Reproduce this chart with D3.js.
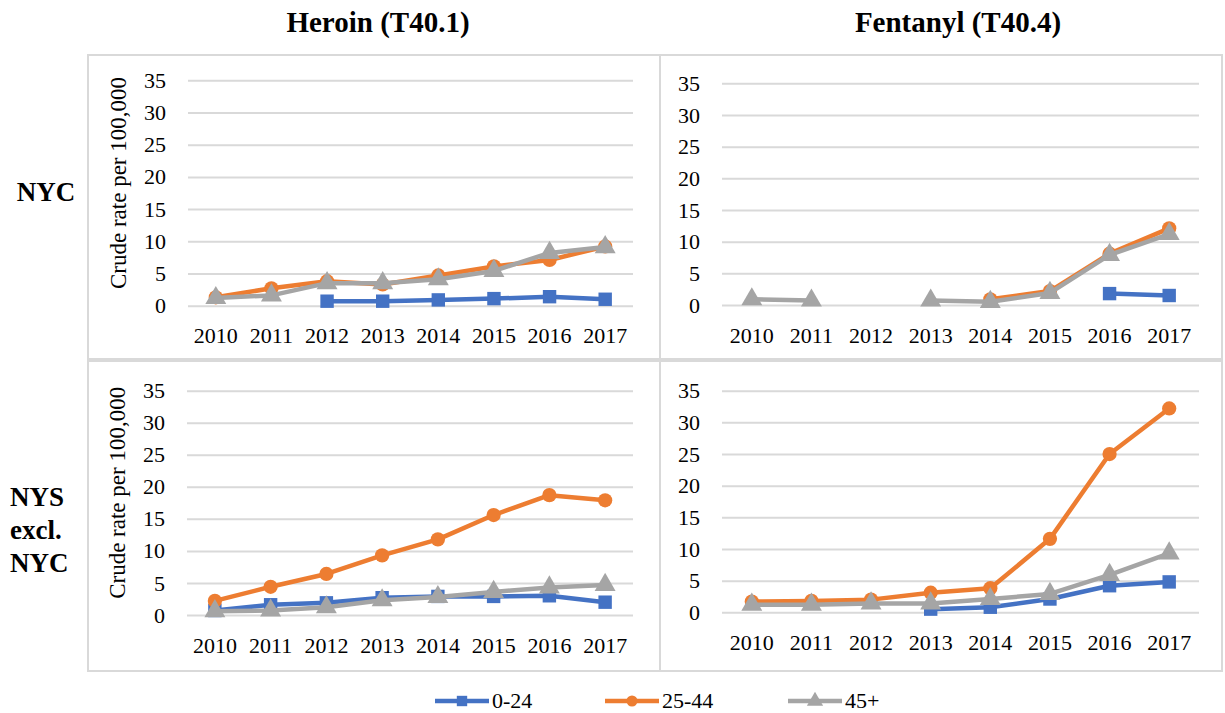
<!DOCTYPE html>
<html>
<head>
<meta charset="utf-8">
<script src="https://cdnjs.cloudflare.com/ajax/libs/d3/7.8.5/d3.min.js"></script>
<style>
  body { margin: 0; background: #fff; }
  svg text { font-family: "Liberation Serif", "Times New Roman", Times, "DejaVu Serif", serif; fill: #000; }
</style>
</head>
<body>
<svg width="1225" height="713"></svg>
<script>
var years = ["2010", "2011", "2012", "2013", "2014", "2015", "2016", "2017"];
var ageGroups = ["0-24", "25-44", "45+"];
var yTicks = [0, 5, 10, 15, 20, 25, 30, 35];
var columnTitles = ["Heroin (T40.1)", "Fentanyl (T40.4)"];

// crude rate per 100,000, null = not shown
var heroinNyc024 = [null, null, 0.7, 0.7, 0.9, 1.1, 1.4, 1.0];
var heroinNyc2544 = [1.3, 2.7, 3.8, 3.3, 4.7, 6.1, 7.1, 9.2];
var heroinNyc45 = [1.2, 1.6, 3.5, 3.5, 4.1, 5.4, 8.2, 9.1];

var fentanylNyc024 = [null, null, null, null, null, null, 1.8, 1.5];
var fentanylNyc2544 = [null, null, null, null, 0.9, 2.2, 8.1, 12.1];
var fentanylNyc45 = [0.9, 0.7, null, 0.7, 0.5, 1.9, 7.9, 11.2];

var heroinRest024 = [0.7, 1.6, 1.9, 2.7, 2.9, 2.9, 3.0, 2.0];
var heroinRest2544 = [2.2, 4.4, 6.4, 9.3, 11.8, 15.6, 18.7, 17.9];
var heroinRest45 = [0.6, 0.7, 1.2, 2.3, 2.8, 3.6, 4.3, 4.7];

var fentanylRest024 = [null, null, null, 0.5, 0.8, 2.1, 4.2, 4.8];
var fentanylRest2544 = [1.7, 1.8, 2.0, 3.1, 3.8, 11.6, 25.0, 32.2];
var fentanylRest45 = [1.2, 1.2, 1.4, 1.4, 2.1, 2.9, 5.9, 9.3];

var colors = ["#4472C4", "#ED7D31", "#A5A5A5"];
var symbols = [d3.symbolSquare, d3.symbolCircle, d3.symbolTriangle];
var symbolSizes = [180, 160, 190];
var serif = "'Liberation Serif', 'Times New Roman', Times, 'DejaVu Serif', serif";

var svg = d3.select("svg");

var panels = [
  { series: [heroinNyc024, heroinNyc2544, heroinNyc45], box: [88, 55, 660, 359],
    left: 188, right: 633, top: 80.3, bottom: 305.7, yTitle: true },
  { series: [fentanylNyc024, fentanylNyc2544, fentanylNyc45], box: [660, 55, 1222, 359],
    left: 722, right: 1199, top: 83.3, bottom: 305, yTitle: false },
  { series: [heroinRest024, heroinRest2544, heroinRest45], box: [88, 361, 660, 671],
    left: 187, right: 633, top: 390.7, bottom: 615, yTitle: true },
  { series: [fentanylRest024, fentanylRest2544, fentanylRest45], box: [660, 361, 1222, 671],
    left: 722, right: 1199, top: 390.7, bottom: 612.3, yTitle: false }
];

// table-like cell borders
panels.forEach(function(p) {
  svg.append("rect")
    .attr("x", p.box[0]).attr("y", p.box[1])
    .attr("width", p.box[2] - p.box[0]).attr("height", p.box[3] - p.box[1])
    .attr("fill", "none")
    .attr("stroke", "#d9d9d9")
    .attr("stroke-width", 2);
});

// column + row headings
svg.selectAll(".coltitle")
  .data(columnTitles)
  .enter().append("text")
  .attr("class", "coltitle")
  .attr("x", function(d, i) { return i == 0 ? 378 : 958; })
  .attr("y", 32)
  .attr("text-anchor", "middle")
  .style("font-size", "29px")
  .style("font-weight", "bold")
  .text(function(d) { return d; });

svg.append("text")
  .attr("x", 46).attr("y", 201)
  .attr("text-anchor", "middle")
  .style("font-size", "27px").style("font-weight", "bold")
  .text("NYC");

["NYS", "excl.", "NYC"].forEach(function(t, i) {
  svg.append("text")
    .attr("x", 10).attr("y", 506 + i * 33)
    .style("font-size", "27px").style("font-weight", "bold")
    .text(t);
});

panels.forEach(function(p) {
  var x = d3.scaleBand().domain(years).range([p.left, p.right]);
  var y = d3.scaleLinear().domain([0, 35]).range([p.bottom, p.top]);

  var g = svg.append("g");

  var yAxis = d3.axisLeft(y)
    .tickValues(yTicks)
    .tickSize(-(p.right - p.left))
    .tickPadding(22);

  g.append("g")
    .attr("transform", "translate(" + p.left + ",0)")
    .call(yAxis)
    .attr("font-family", serif)
    .call(function(a) {
      a.select(".domain").remove();
      a.selectAll("line").attr("stroke", "#d9d9d9").attr("stroke-width", 2);
      a.selectAll("text")
        .attr("x", -22)
        .style("font-size", "22px");
    });

  var xAxis = d3.axisBottom(x).tickSize(0).tickPadding(22);
  g.append("g")
    .attr("transform", "translate(0," + p.bottom + ")")
    .call(xAxis)
    .attr("font-family", serif)
    .call(function(a) {
      a.select(".domain").remove();
      a.selectAll("text")
        .style("font-size", "22px");
    });

  if (p.yTitle) {
    var cy = (p.top + p.bottom) / 2 - 10;
    g.append("text")
      .attr("transform", "translate(" + (p.left - 62) + "," + cy + ") rotate(-90)")
      .attr("text-anchor", "middle")
      .style("font-size", "23px")
      .text("Crude rate per 100,000");
  }

  var line = d3.line()
    .defined(function(d) { return d != null; })
    .x(function(d, i) { return x(years[i]) + x.bandwidth() / 2; })
    .y(function(d) { return y(d); });

  p.series.forEach(function(values, k) {
    g.append("path")
      .datum(values)
      .attr("fill", "none")
      .attr("stroke", colors[k])
      .attr("stroke-width", 4.5)
      .attr("stroke-linejoin", "round")
      .attr("d", line);

    g.selectAll(".m" + k)
      .data(values.map(function(v, i) { return { v: v, i: i }; })
        .filter(function(d) { return d.v != null; }))
      .enter().append("path")
      .attr("class", "m" + k)
      .attr("transform", function(d) {
        return "translate(" + (x(years[d.i]) + x.bandwidth() / 2) + "," + y(d.v) + ")";
      })
      .attr("d", d3.symbol().type(symbols[k]).size(symbolSizes[k]))
      .attr("fill", colors[k]);
  });
});

// legend
var legendX = [435, 605, 788];
var legend = svg.selectAll(".legend")
  .data(ageGroups)
  .enter().append("g")
  .attr("class", "legend")
  .attr("transform", function(d, i) { return "translate(" + legendX[i] + ",701)"; });

legend.append("line")
  .attr("x1", 0).attr("x2", 54)
  .attr("stroke", function(d, i) { return colors[i]; })
  .attr("stroke-width", 4.5);

legend.append("path")
  .attr("transform", "translate(27,0)")
  .attr("d", function(d, i) { return d3.symbol().type(symbols[i]).size(symbolSizes[i] * 0.6)(); })
  .attr("fill", function(d, i) { return colors[i]; });

legend.append("text")
  .attr("x", 57).attr("y", 7)
  .style("font-size", "22px")
  .text(function(d) { return d; });
</script>
</body>
</html>
